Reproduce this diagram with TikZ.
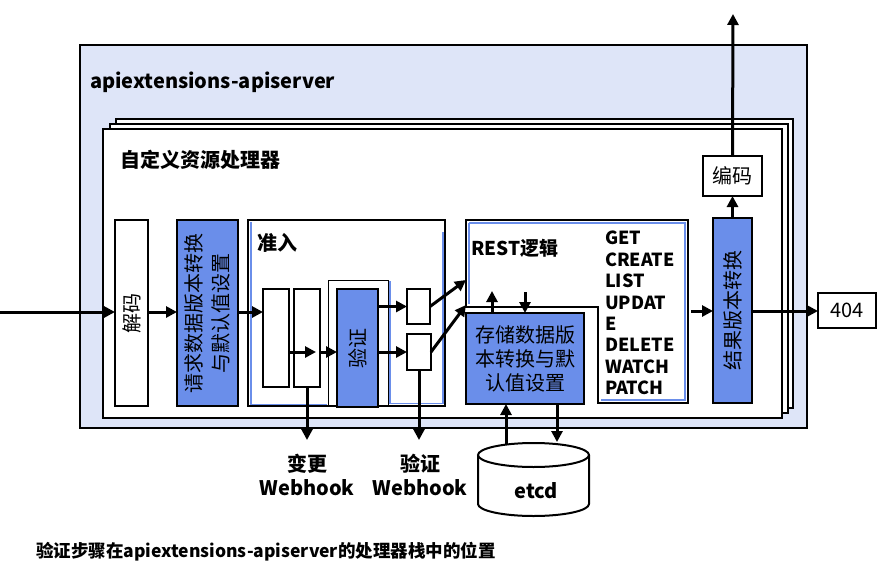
\documentclass[tikz,border=0pt]{standalone}
\usepackage{fontspec}
\setmainfont{Noto Sans CJK SC}
\usetikzlibrary{arrows.meta,calc}
\definecolor{bgblue}{RGB}{222,229,248}
\definecolor{boxblue}{RGB}{106,142,234}
\begin{document}
\begin{tikzpicture}[x=1pt,y=-1pt,
  box/.style={draw=black, line width=2.2pt, fill=white, inner sep=0pt, outer sep=0pt},
  bbox/.style={box, fill=boxblue},
  frame/.style={draw=black, line width=2.2pt, fill=white},
  arr/.style={line width=3pt, -{Triangle[length=11pt,width=11pt]}},
  lbl/.style={font=\bfseries\fontsize{20}{24}\selectfont, inner sep=0pt},
  txt/.style={font=\fontsize{20}{27}\selectfont, inner sep=0pt, align=center},
  rot/.style={txt, rotate=90}
]
\useasboundingbox (0,0) rectangle (878,576);

% outer server box
\draw[line width=2pt, fill=bgblue] (80,45) rectangle (807,428);
\node[lbl, anchor=west] (srv) at (90,82) {apiextensions-apiserver};

% stacked handler frames
\draw[frame] (116,119) rectangle (793,408);
\draw[frame] (110,124) rectangle (788,413);
\draw[frame] (103,129) rectangle (782,418);
\node[lbl, anchor=west] (crh) at (120,160) {自定义资源处理器};

% decode and request conversion
\node[box, minimum width=33, minimum height=186] (dec) at (131.5,313) {};
\node[rot] (dect) at (dec.center) {解码};
\node[bbox, minimum width=61, minimum height=186] (req) at (207.5,313) {};
\node[rot] (reqt) at (req.center) {请求数据版本转换\\与默认值设置};

% admission
\node[box, minimum width=197, minimum height=186] (adm) at (346.5,313) {};
\draw[boxblue, line width=1.4pt] (250.8,222) -- (250.8,404.6) -- (327,404.6);
\draw[line width=1pt] (328,406) -- (328,280) -- (388,280) -- (388,406);
\draw[boxblue, line width=1.4pt] (390,281) -- (390,403.5) -- (443,403.5) -- (443,232);
\node[lbl, anchor=west] (admt) at (257,243) {准入};
\node[box, minimum width=26, minimum height=98] (A) at (276,338) {};
\node[box, minimum width=26, minimum height=98] (B) at (307,338) {};
\node[bbox, minimum width=41, minimum height=118] (val) at (357.5,348) {};
\node[rot] (valt) at (val.center) {验证};
\node[box, minimum width=23, minimum height=35] (C) at (418.5,306.5) {};
\node[box, minimum width=24, minimum height=36] (D) at (419,352) {};

% REST logic
\draw[line width=2.2pt, fill=white] (466,220) -- (688,220) -- (688,403) -- (598,403) -- (598,307) -- (466,307) -- cycle;
\draw[boxblue, line width=1.4pt] (469,223) -- (685,223) -- (685,400) -- (601,400);
\draw[boxblue, line width=1.4pt] (469,223) -- (469,304);
\node[lbl, font=\bfseries\fontsize{19}{22}\selectfont, anchor=west] (restt) at (471,248) {REST逻辑};
\node[inner sep=0pt, anchor=north west, align=left, font=\bfseries\fontsize{18}{21.4}\selectfont] (verbs) at (605,231)
  {GET\\CREATE\\LIST\\UPDAT\\E\\DELETE\\WATCH\\PATCH};
\node[bbox, minimum width=118, minimum height=91] (sto) at (525,358.5) {};
\node[txt, font=\fontsize{20}{24}\selectfont] (stot) at (sto.center) {存储数据版\\本转换与默\\认值设置};

% result conversion, encode, 404
\node[bbox, minimum width=39, minimum height=185] (res) at (732.5,310.5) {};
\node[rot] (rest) at (res.center) {结果版本转换};
\node[box, minimum width=59, minimum height=40, font=\fontsize{20}{24}\selectfont] (enc) at (732.5,176) {编码};
\node[box, line width=2pt, minimum width=58, minimum height=35, font=\fontsize{20}{24}\selectfont] (n404) at (847,310.5) {404};

% etcd cylinder
\draw[line width=2pt, fill=white] (478,455) -- (478,504) arc[start angle=180, end angle=0, x radius=55.5, y radius=12] -- (589,455);
\draw[line width=2pt, fill=white] (533.5,455) ellipse[x radius=55.5, y radius=12];
\node[lbl] (etcd) at (536,491) {etcd};

% webhook labels
\node[lbl, align=center, font=\bfseries\fontsize{20}{24}\selectfont] (mwh) at (307,475) {变更\\Webhook};
\node[lbl, align=center, font=\bfseries\fontsize{20}{24}\selectfont] (vwh) at (420,475) {验证\\Webhook};

% caption
\node[lbl, font=\bfseries\fontsize{17.5}{20}\selectfont, anchor=west] (cap) at (36,552) {验证步骤在apiextensions-apiserver的处理器栈中的位置};

% coordinates
\coordinate (in) at (0,312);
\coordinate (mid) at (0,352);
\coordinate (restin1) at (466,280);
\coordinate (restin2) at (466,305);
\coordinate (restout) at (691,311);
\coordinate (wh1) at (307,440);
\coordinate (wh2) at (419,440);
\coordinate (u1) at (492,291);
\coordinate (d1) at (525,292);
\coordinate (e1) at (506,445);
\coordinate (e2) at (557,442);
\coordinate (top) at (733,14);

% arrows
\draw[arr] (in) -- (in -| dec.west);
\draw[arr] (in -| dec.east) -- (in -| req.west);
\draw[arr] (in -| req.east) -- (in -| A.west);
\draw[arr, shorten >=4pt] (mid -| A.east) -- (mid -| B.east);
\draw[arr] (mid -| B.east) -- (mid -| val.west);
\draw[arr] (val.east |- C) -- (C.west);
\draw[arr] (val.east |- D) -- (D.west);
\draw[arr] (C.east) -- (restin1);
\draw[arr] (D.east) -- (restin2);
\draw[arr] (B.south) -- (wh1);
\draw[arr] (D.south) -- (wh2);
\draw[arr] (u1 |- sto.north) -- (u1);
\draw[arr] (d1) -- (d1 |- sto.north);
\draw[arr] (e1) -- (e1 |- sto.south);
\draw[arr] (e2 |- sto.south) -- (e2);
\draw[arr] (restout) -- (restout -| res.west);
\draw[arr] (restout -| res.east) -- (restout -| n404.west);
\draw[arr] (res.north) -- (enc.south);
\draw[arr] (enc.north) -- (top);
\end{tikzpicture}
\end{document}
